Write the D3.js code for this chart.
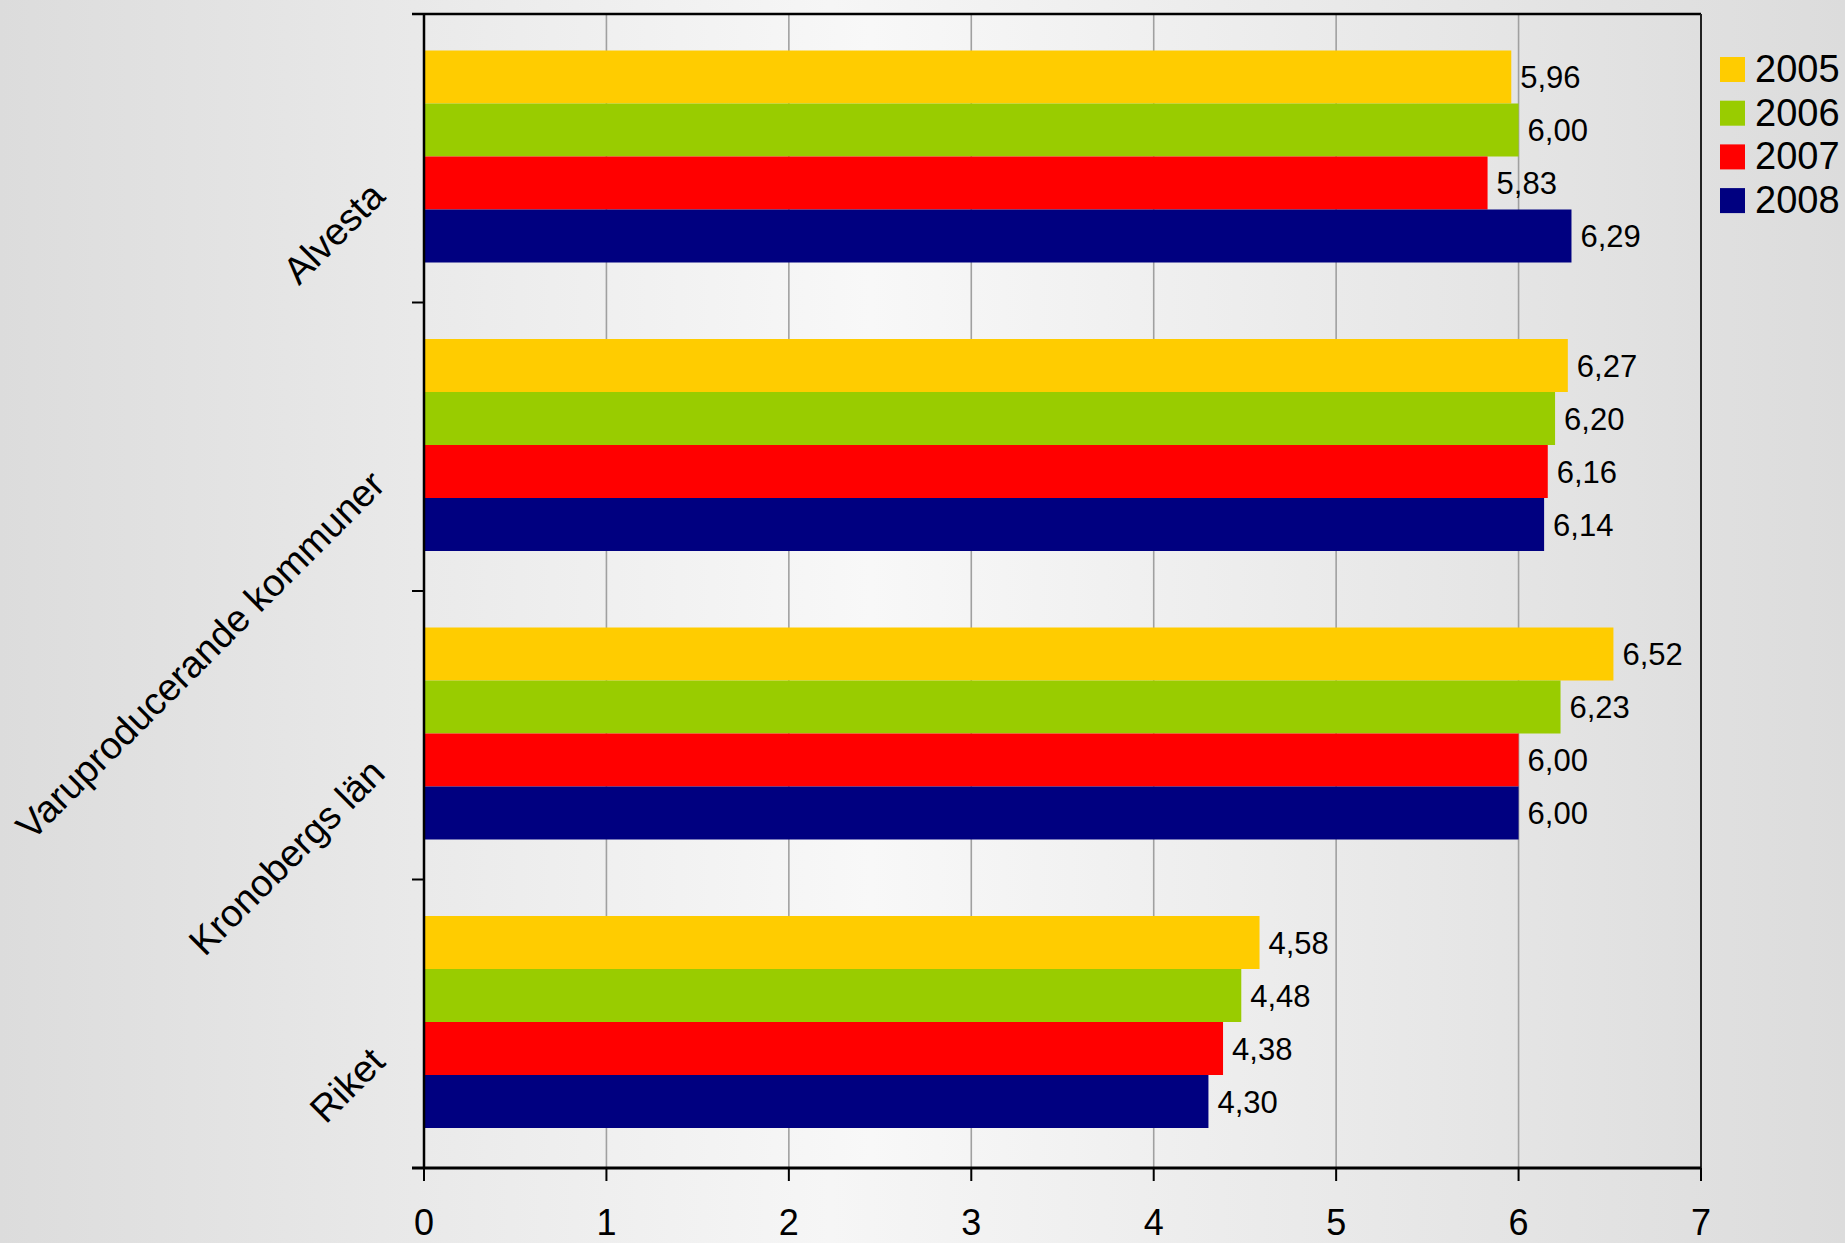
<!DOCTYPE html>
<html>
<head>
<meta charset="utf-8">
<script src="https://cdn.jsdelivr.net/npm/d3@7"></script>
<style>
  html, body { margin: 0; padding: 0; }
  body { width: 1845px; height: 1243px; overflow: hidden; }
  text { font-family: "Liberation Sans", Arial, sans-serif; fill: #000; }
</style>
</head>
<body>
<svg id="chart" width="1845" height="1243"></svg>
<script>
// ---- Data ----
const categories = ["Alvesta", "Varuproducerande kommuner", "Kronobergs län", "Riket"];
const years = ["2005", "2006", "2007", "2008"];
const values2005 = [5.96, 6.27, 6.52, 4.58];
const values2006 = [6.00, 6.20, 6.23, 4.48];
const values2007 = [5.83, 6.16, 6.00, 4.38];
const values2008 = [6.29, 6.14, 6.00, 4.30];
const seriesColors = ["#FFCC00", "#99CC00", "#FF0000", "#000080"];
const xTicks = [0, 1, 2, 3, 4, 5, 6, 7];

const seriesValues = [values2005, values2006, values2007, values2008];

// ---- Layout ----
const W = 1845, H = 1243;
const plot = { left: 424, right: 1701, top: 14, bottom: 1168 };

const svg = d3.select("#chart");
const defs = svg.append("defs");

const bgGrad = defs.append("linearGradient").attr("id", "bgGrad")
  .attr("x1", "0%").attr("x2", "100%").attr("y1", "0%").attr("y2", "0%");
bgGrad.append("stop").attr("offset", "0%").attr("stop-color", "#dcdcdc");
bgGrad.append("stop").attr("offset", "45%").attr("stop-color", "#f6f6f6");
bgGrad.append("stop").attr("offset", "100%").attr("stop-color", "#dcdcdc");

const plotGrad = defs.append("linearGradient").attr("id", "plotGrad")
  .attr("x1", "0%").attr("x2", "100%").attr("y1", "0%").attr("y2", "0%");
plotGrad.append("stop").attr("offset", "0%").attr("stop-color", "#eaeaea");
plotGrad.append("stop").attr("offset", "35%").attr("stop-color", "#f8f8f8");
plotGrad.append("stop").attr("offset", "100%").attr("stop-color", "#dfdfdf");

svg.append("rect").attr("width", W).attr("height", H).attr("fill", "url(#bgGrad)");
svg.append("rect")
  .attr("x", plot.left).attr("y", plot.top)
  .attr("width", plot.right - plot.left).attr("height", plot.bottom - plot.top)
  .attr("fill", "url(#plotGrad)");

// ---- Scales ----
const x = d3.scaleLinear().domain([0, 7]).range([plot.left, plot.right]);
const y0 = d3.scaleBand().domain(categories).range([plot.top, plot.bottom]).padding(0);
const y1 = d3.scaleBand().domain(years).range([36.5, y0.bandwidth() - 40]).padding(0);

// ---- Gridlines ----
svg.append("g").selectAll("line")
  .data(xTicks.filter(t => t > 0 && t < 7))
  .join("line")
  .attr("x1", d => x(d)).attr("x2", d => x(d))
  .attr("y1", plot.top).attr("y2", plot.bottom)
  .attr("stroke", "#a0a0a0").attr("stroke-width", 1.6);

// ---- Bars ----
const groups = svg.append("g").selectAll("g")
  .data(categories)
  .join("g")
  .attr("transform", d => `translate(0,${y0(d)})`);

const fmt = v => d3.format(".2f")(v).replace(".", ",");

groups.each(function(cat, ci) {
  const g = d3.select(this);
  years.forEach((yr, si) => {
    const v = seriesValues[si][ci];
    g.append("rect")
      .attr("x", x(0))
      .attr("y", y1(yr))
      .attr("width", x(v) - x(0))
      .attr("height", y1.bandwidth())
      .attr("fill", seriesColors[si]);
    g.append("text")
      .attr("x", x(v) + 9)
      .attr("y", y1(yr) + y1.bandwidth() / 2 + 11)
      .attr("font-size", 31)
      .text(fmt(v));
  });
});

// ---- Frame (top and right) ----
svg.append("line")
  .attr("x1", plot.left - 12).attr("x2", plot.right)
  .attr("y1", plot.top).attr("y2", plot.top)
  .attr("stroke", "#000").attr("stroke-width", 2.5);
svg.append("line")
  .attr("x1", plot.right).attr("x2", plot.right)
  .attr("y1", plot.top).attr("y2", plot.bottom)
  .attr("stroke", "#222").attr("stroke-width", 2);

// ---- Y axis ----
const yAxisG = svg.append("g");
yAxisG.append("line")
  .attr("x1", plot.left).attr("x2", plot.left)
  .attr("y1", plot.top).attr("y2", plot.bottom)
  .attr("stroke", "#000").attr("stroke-width", 2.5);
const boundaries = categories.map(c => y0(c)).concat([y0(categories[categories.length - 1]) + y0.bandwidth()]);
yAxisG.selectAll("line.tick")
  .data(boundaries)
  .join("line").attr("class", "tick")
  .attr("x1", plot.left - 12).attr("x2", plot.left)
  .attr("y1", d => d).attr("y2", d => d)
  .attr("stroke", "#000").attr("stroke-width", 2);
yAxisG.selectAll("text")
  .data(categories)
  .join("text")
  .attr("transform", d => `translate(${plot.left - 37},${y0(d) + y0.bandwidth() / 2 + 40}) rotate(-45)`)
  .attr("text-anchor", "end")
  .attr("font-size", 38)
  .text(d => d);

// ---- X axis ----
const xAxisG = svg.append("g");
xAxisG.append("line")
  .attr("x1", plot.left - 12).attr("x2", plot.right)
  .attr("y1", plot.bottom).attr("y2", plot.bottom)
  .attr("stroke", "#000").attr("stroke-width", 3);
xAxisG.selectAll("line.tick")
  .data(xTicks)
  .join("line").attr("class", "tick")
  .attr("x1", d => x(d)).attr("x2", d => x(d))
  .attr("y1", plot.bottom).attr("y2", plot.bottom + 13)
  .attr("stroke", "#000").attr("stroke-width", 2);
xAxisG.selectAll("text")
  .data(xTicks)
  .join("text")
  .attr("x", d => x(d))
  .attr("y", 1235)
  .attr("text-anchor", "middle")
  .attr("font-size", 36)
  .text(d => d);

// ---- Legend ----
const legend = svg.append("g");
years.forEach((yr, i) => {
  const top = 57 + i * 43.7;
  legend.append("rect")
    .attr("x", 1720).attr("y", top)
    .attr("width", 25).attr("height", 25)
    .attr("fill", seriesColors[i]);
  legend.append("text")
    .attr("x", 1755).attr("y", top + 25)
    .attr("font-size", 38)
    .text(yr);
});
</script>
</body>
</html>
